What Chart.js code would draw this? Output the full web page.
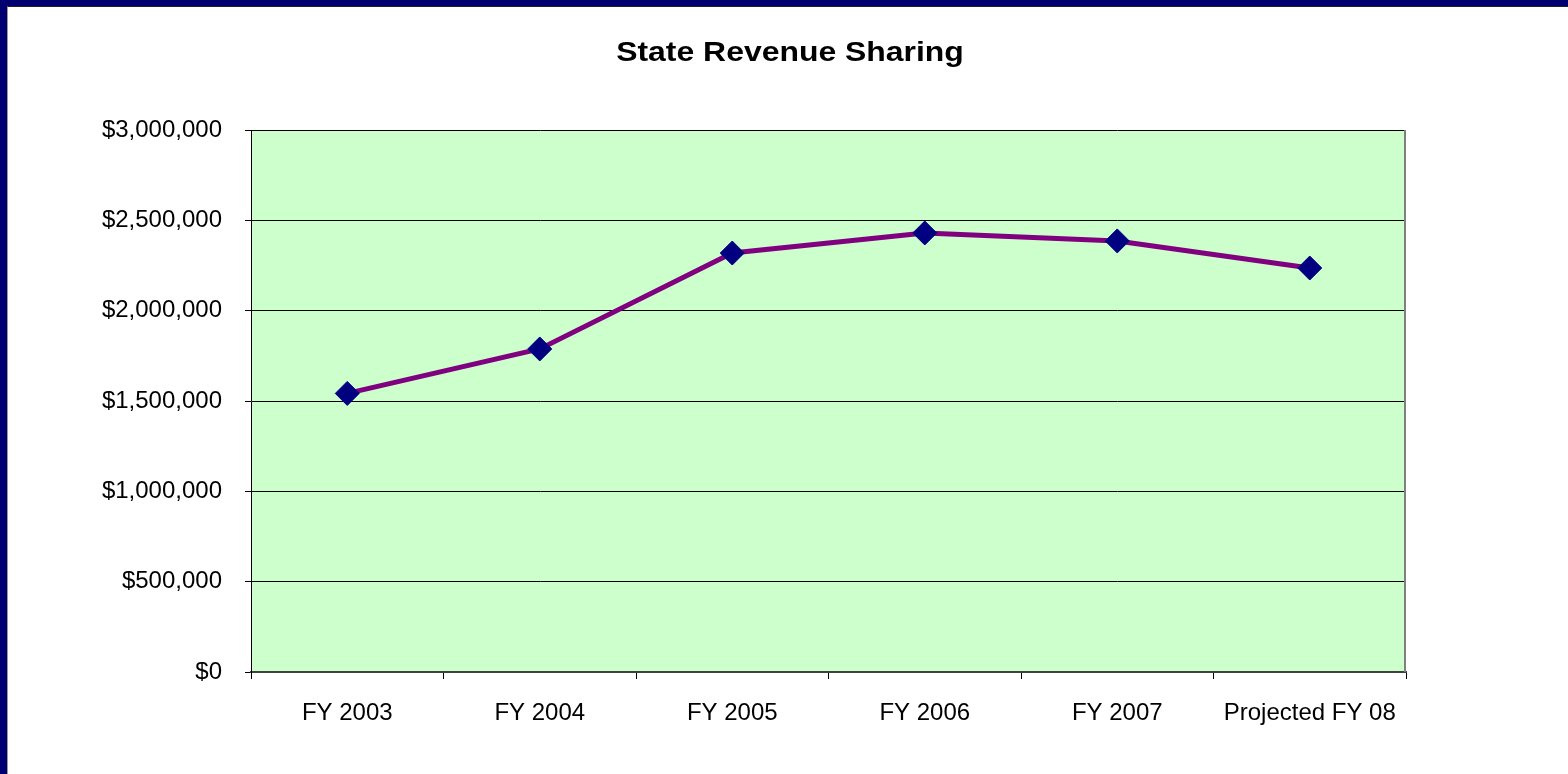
<!DOCTYPE html>
<html>
<head>
<meta charset="utf-8">
<title>State Revenue Sharing</title>
<script src="https://cdn.jsdelivr.net/npm/chart.js@4.4.1/dist/chart.umd.min.js"></script>
<style>
html, body { margin: 0; padding: 0; }
body { background: #000070; width: 1568px; height: 774px; overflow: hidden; position: relative; }
#wrap {
	position: absolute; left: 7px; top: 6px; width: 1561px; height: 768px;
	box-sizing: border-box; background: #fff;
	border-left: 1px solid #9a9a9a; border-top: 1px solid #202020;
}
#cvg { display: block; }
</style>
</head>
<body>
<div id="wrap"><canvas id="cvg" width="1560" height="767"></canvas></div>
<script>
	// chart data
	var chartTitle = "State Revenue Sharing";
	var years = ["FY 2003", "FY 2004", "FY 2005", "FY 2006", "FY 2007", "Projected FY 08"];
	var revenue = [1542000, 1788000, 2319000, 2430000, 2386000, 2236000];
	var yTicks = [0, 500000, 1000000, 1500000, 2000000, 2500000, 3000000];

	var fontFamily = '"Liberation Sans", Arial, sans-serif';

	// green plot area + grey right edge
	var plotBg = {
		id: 'plotBg',
		beforeDraw: function(chart){
			var a = chart.chartArea;
			var ctx = chart.ctx;
			ctx.save();
			ctx.fillStyle = '#ccffcc';
			ctx.fillRect(a.left, a.top, a.right - a.left, a.bottom - a.top);
			ctx.restore();
		},
		afterDraw: function(chart){
			var a = chart.chartArea;
			var ctx = chart.ctx;
			ctx.save();
			ctx.strokeStyle = '#808080';
			ctx.lineWidth = 2;
			ctx.beginPath();
			ctx.moveTo(a.right - 1, a.top);
			ctx.lineTo(a.right - 1, a.bottom);
			ctx.stroke();
			ctx.restore();
		}
	};

	// the title in the picture is drawn a bit wider than normal type
	var wideTitle = {
		id: 'wideTitle',
		afterDraw: function(chart){
			var ctx = chart.ctx;
			ctx.save();
			ctx.font = 'bold 28px ' + fontFamily;
			ctx.fillStyle = '#000';
			ctx.textAlign = 'center';
			ctx.textBaseline = 'alphabetic';
			ctx.translate(chart.width / 2 + 2, 54);
			ctx.scale(1.14, 1);
			ctx.fillText(chartTitle, 0, 0);
			ctx.restore();
		}
	};

	var ctx = document.getElementById("cvg").getContext("2d");

	var myLineChart = new Chart(ctx, {
		type: 'line',
		data: {
			labels: years,
			datasets: [{
				data: revenue,
				borderColor: '#800080',
				borderWidth: 5,
				tension: 0,
				fill: false,
				pointStyle: 'rectRot',
				pointRadius: 12,
				pointBackgroundColor: '#000080',
				pointBorderColor: '#000080',
				pointBorderWidth: 1
			}]
		},
		options: {
			responsive: false,
			animation: false,
			layout: { padding: { top: 123, right: 162, left: 0, bottom: 0 } },
			plugins: {
				legend: { display: false },
				title: { display: false },
				tooltip: { enabled: false }
			},
			scales: {
				x: {
					offset: true,
					grid: { offset: true, drawOnChartArea: false, drawTicks: true, tickLength: 7, color: '#000' },
					border: { color: '#404040', width: 2 },
					ticks: { color: '#000', font: { family: fontFamily, size: 24 }, padding: 20, maxRotation: 0, autoSkip: false },
					afterFit: function(s){ s.height = 102; }
				},
				y: {
					min: 0,
					max: 3000000,
					afterBuildTicks: function(s){
						s.ticks = yTicks.map(function(v){ return { value: v }; });
					},
					grid: { color: '#000', lineWidth: 1, drawTicks: true, tickLength: 6 },
					border: { color: '#000', width: 1 },
					ticks: {
						color: '#000',
						font: { family: fontFamily, size: 24 },
						padding: 23,
						callback: function(v){ return '$' + Number(v).toLocaleString('en-US'); }
					},
					afterFit: function(s){ s.width = 243; }
				}
			}
		},
		plugins: [plotBg, wideTitle]
	});
</script>
</body>
</html>
